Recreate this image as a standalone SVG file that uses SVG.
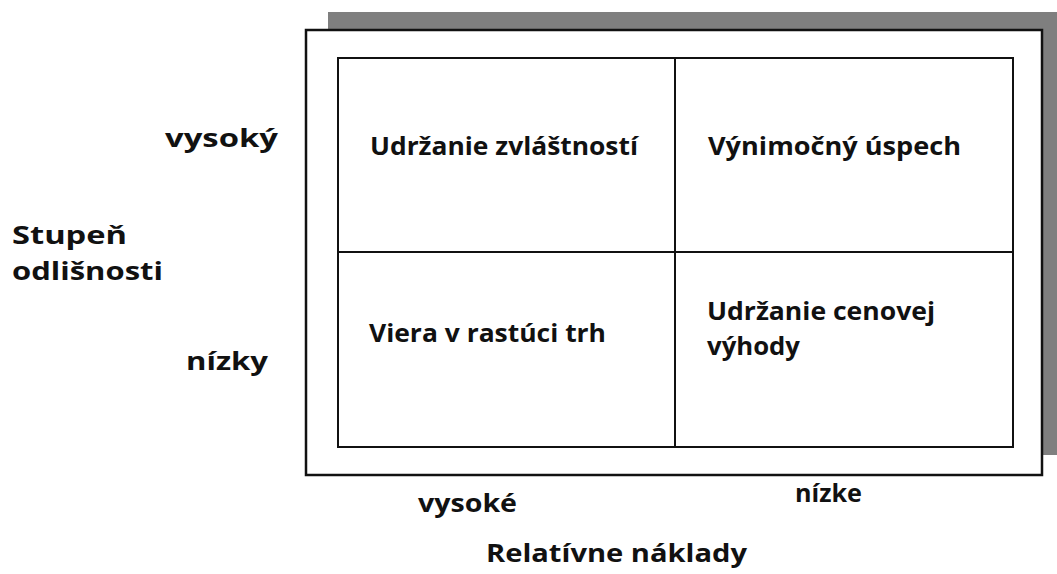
<svg xmlns="http://www.w3.org/2000/svg" width="1057" height="574" viewBox="0 0 1057 574">
  <style>
    .lbl { font-family: "Open Sans", "Noto Sans", sans-serif; font-weight: 700; font-size: 25px; fill: #111; }
    .frame { fill: #fff; stroke: #111; stroke-width: 2.5; }
    .grid { fill: none; stroke: #111; stroke-width: 2; }
  </style>
  <rect width="1057" height="574" fill="#fff"/>
  <!-- drop shadow and outer frame -->
  <rect x="328" y="12" width="735" height="443" fill="#7f7f7f"/>
  <rect class="frame" x="306" y="30" width="736" height="445"/>
  <!-- quadrant cells -->
  <g id="cell-top-left">
    <rect class="grid" x="338" y="58" width="337" height="194"/>
    <text class="lbl" x="370" y="155" textLength="268" lengthAdjust="spacingAndGlyphs">Udržanie zvláštností</text>
  </g>
  <g id="cell-top-right">
    <rect class="grid" x="675" y="58" width="338" height="194"/>
    <text class="lbl" x="708" y="155" textLength="253" lengthAdjust="spacingAndGlyphs">Výnimočný úspech</text>
  </g>
  <g id="cell-bottom-left">
    <rect class="grid" x="338" y="252" width="337" height="195"/>
    <text class="lbl" x="369" y="342" textLength="237" lengthAdjust="spacingAndGlyphs">Viera v rastúci trh</text>
  </g>
  <g id="cell-bottom-right">
    <rect class="grid" x="675" y="252" width="338" height="195"/>
    <text class="lbl" x="707" y="320" textLength="228" lengthAdjust="spacingAndGlyphs">Udržanie cenovej</text>
    <text class="lbl" x="707" y="355" textLength="93" lengthAdjust="spacingAndGlyphs">výhody</text>
  </g>
  <!-- axis labels -->
  <g id="axis-y">
    <text class="lbl" x="165" y="147" textLength="113" lengthAdjust="spacingAndGlyphs">vysoký</text>
    <text class="lbl" x="12" y="244" textLength="115" lengthAdjust="spacingAndGlyphs">Stupeň</text>
    <text class="lbl" x="12" y="280" textLength="151" lengthAdjust="spacingAndGlyphs">odlišnosti</text>
    <text class="lbl" x="186" y="370" textLength="82" lengthAdjust="spacingAndGlyphs">nízky</text>
  </g>
  <g id="axis-x">
    <text class="lbl" x="418" y="512" textLength="99" lengthAdjust="spacingAndGlyphs">vysoké</text>
    <text class="lbl" x="795" y="502" textLength="67" lengthAdjust="spacingAndGlyphs">nízke</text>
    <text class="lbl" x="486" y="562" textLength="261" lengthAdjust="spacingAndGlyphs">Relatívne náklady</text>
  </g>
</svg>
